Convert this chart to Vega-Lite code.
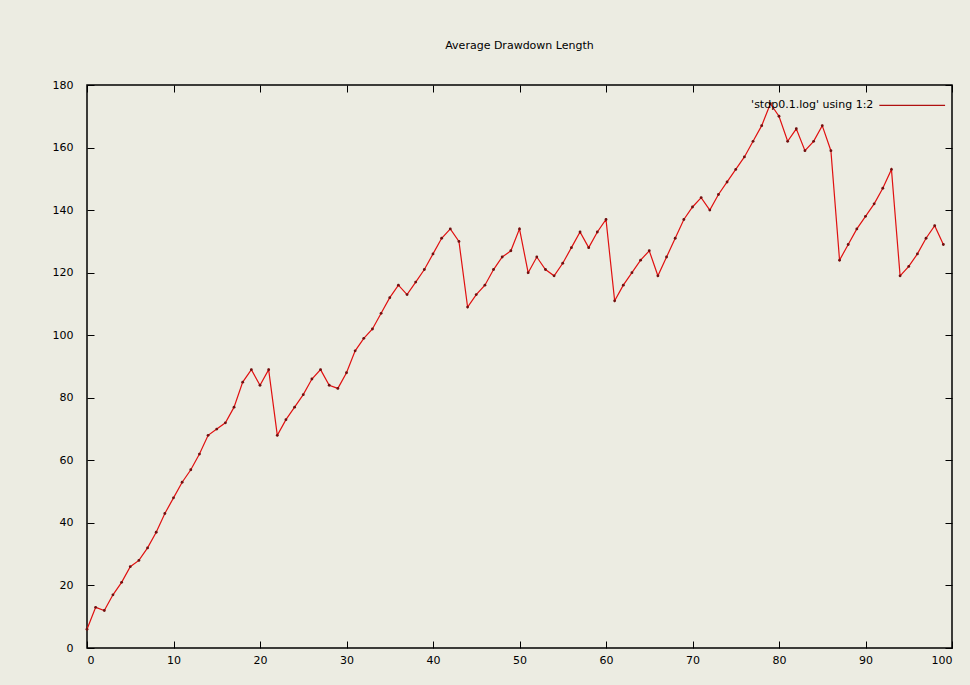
{
  "$schema": "https://vega.github.io/schema/vega-lite/v6.json",
  "autosize": "none",
  "width": 865,
  "height": 563,
  "padding": {"left": 87, "top": 85, "right": 18, "bottom": 37},
  "background": "#ecece2",
  "title": {"text": "Average Drawdown Length", "font": "DejaVu Sans", "fontSize": 11, "fontWeight": "normal", "color": "#000000", "offset": 28},
  "config": {
    "view": {"stroke": "#000000", "strokeWidth": 1.5, "fill": "#ecece2"},
    "axis": {"grid": false, "domain": false, "labelFont": "DejaVu Sans", "labelFontSize": 11, "labelColor": "#000000", "tickColor": "#000000", "tickSize": -7, "tickWidth": 1, "title": null}
  },
  "datasets": {
    "series": [
      {"x": 0, "y": 6}, {"x": 1, "y": 13}, {"x": 2, "y": 12}, {"x": 3, "y": 17}, {"x": 4, "y": 21},
      {"x": 5, "y": 26}, {"x": 6, "y": 28}, {"x": 7, "y": 32}, {"x": 8, "y": 37}, {"x": 9, "y": 43},
      {"x": 10, "y": 48}, {"x": 11, "y": 53}, {"x": 12, "y": 57}, {"x": 13, "y": 62}, {"x": 14, "y": 68},
      {"x": 15, "y": 70}, {"x": 16, "y": 72}, {"x": 17, "y": 77}, {"x": 18, "y": 85}, {"x": 19, "y": 89},
      {"x": 20, "y": 84}, {"x": 21, "y": 89}, {"x": 22, "y": 68}, {"x": 23, "y": 73}, {"x": 24, "y": 77},
      {"x": 25, "y": 81}, {"x": 26, "y": 86}, {"x": 27, "y": 89}, {"x": 28, "y": 84}, {"x": 29, "y": 83},
      {"x": 30, "y": 88}, {"x": 31, "y": 95}, {"x": 32, "y": 99}, {"x": 33, "y": 102}, {"x": 34, "y": 107},
      {"x": 35, "y": 112}, {"x": 36, "y": 116}, {"x": 37, "y": 113}, {"x": 38, "y": 117}, {"x": 39, "y": 121},
      {"x": 40, "y": 126}, {"x": 41, "y": 131}, {"x": 42, "y": 134}, {"x": 43, "y": 130}, {"x": 44, "y": 109},
      {"x": 45, "y": 113}, {"x": 46, "y": 116}, {"x": 47, "y": 121}, {"x": 48, "y": 125}, {"x": 49, "y": 127},
      {"x": 50, "y": 134}, {"x": 51, "y": 120}, {"x": 52, "y": 125}, {"x": 53, "y": 121}, {"x": 54, "y": 119},
      {"x": 55, "y": 123}, {"x": 56, "y": 128}, {"x": 57, "y": 133}, {"x": 58, "y": 128}, {"x": 59, "y": 133},
      {"x": 60, "y": 137}, {"x": 61, "y": 111}, {"x": 62, "y": 116}, {"x": 63, "y": 120}, {"x": 64, "y": 124},
      {"x": 65, "y": 127}, {"x": 66, "y": 119}, {"x": 67, "y": 125}, {"x": 68, "y": 131}, {"x": 69, "y": 137},
      {"x": 70, "y": 141}, {"x": 71, "y": 144}, {"x": 72, "y": 140}, {"x": 73, "y": 145}, {"x": 74, "y": 149},
      {"x": 75, "y": 153}, {"x": 76, "y": 157}, {"x": 77, "y": 162}, {"x": 78, "y": 167}, {"x": 79, "y": 174},
      {"x": 80, "y": 170}, {"x": 81, "y": 162}, {"x": 82, "y": 166}, {"x": 83, "y": 159}, {"x": 84, "y": 162},
      {"x": 85, "y": 167}, {"x": 86, "y": 159}, {"x": 87, "y": 124}, {"x": 88, "y": 129}, {"x": 89, "y": 134},
      {"x": 90, "y": 138}, {"x": 91, "y": 142}, {"x": 92, "y": 147}, {"x": 93, "y": 153}, {"x": 94, "y": 119},
      {"x": 95, "y": 122}, {"x": 96, "y": 126}, {"x": 97, "y": 131}, {"x": 98, "y": 135}, {"x": 99, "y": 129}
    ],
    "legend": [
      {"label": "'stdp0.1.log' using 1:2", "x": 91.6, "x2": 99.2, "y": 173.5}
    ]
  },
  "resolve": {"axis": {"x": "independent", "y": "independent"}},
  "layer": [
    {
      "data": {"name": "series"},
      "mark": {"type": "line", "color": "#e01010", "strokeWidth": 1.2, "point": {"filled": true, "color": "#701010", "size": 8}},
      "encoding": {
        "x": {"field": "x", "type": "quantitative", "scale": {"domain": [0, 100], "nice": false, "zero": false},
              "axis": {"values": [0, 10, 20, 30, 40, 50, 60, 70, 80, 90, 100], "labelPadding": 13, "orient": "bottom"}},
        "y": {"field": "y", "type": "quantitative", "scale": {"domain": [0, 180], "nice": false},
              "axis": {"values": [0, 20, 40, 60, 80, 100, 120, 140, 160, 180], "labelPadding": 21, "orient": "left"}}
      }
    },
    {
      "data": {"name": "legend"},
      "mark": {"type": "rule", "color": "#b01010", "strokeWidth": 1.2},
      "encoding": {
        "x": {"field": "x", "type": "quantitative", "axis": {"orient": "top", "labels": false, "values": [0, 10, 20, 30, 40, 50, 60, 70, 80, 90, 100]}},
        "x2": {"field": "x2"},
        "y": {"field": "y", "type": "quantitative", "axis": {"orient": "right", "labels": false, "values": [0, 20, 40, 60, 80, 100, 120, 140, 160, 180]}}
      }
    },
    {
      "data": {"name": "legend"},
      "mark": {"type": "text", "align": "right", "baseline": "middle", "font": "DejaVu Sans", "fontSize": 11, "color": "#000000", "dx": -6},
      "encoding": {
        "x": {"field": "x", "type": "quantitative", "axis": null},
        "y": {"field": "y", "type": "quantitative", "axis": null},
        "text": {"field": "label"}
      }
    }
  ]
}
